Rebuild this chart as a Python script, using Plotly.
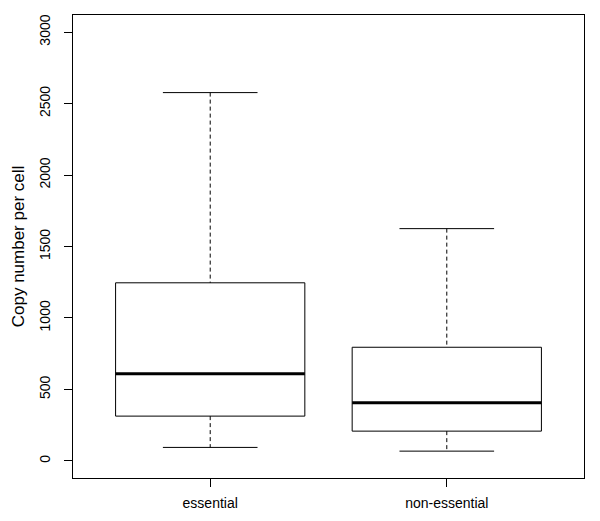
import plotly.graph_objects as go

# values
groups = ["essential", "non-essential"]
lower_whisker = [94, 68]
q1 = [313, 208]
median = [610, 407]
q3 = [1246, 795]
upper_whisker = [2577, 1625]

y_ticks = [0, 500, 1000, 1500, 2000, 2500, 3000]

BOX_HALF = 0.4
CAP_HALF = 0.2

fig = go.Figure()

for i, name in enumerate(groups):
    x = i + 1
    # whiskers (dashed)
    fig.add_trace(go.Scatter(
        x=[x, x, None, x, x],
        y=[upper_whisker[i], q3[i], None, q1[i], lower_whisker[i]],
        mode="lines", line=dict(color="black", width=1, dash="4px,3px"),
        hoverinfo="skip", showlegend=False))
    # staples
    fig.add_trace(go.Scatter(
        x=[x - CAP_HALF, x + CAP_HALF, None, x - CAP_HALF, x + CAP_HALF],
        y=[upper_whisker[i], upper_whisker[i], None, lower_whisker[i], lower_whisker[i]],
        mode="lines", line=dict(color="black", width=1),
        hoverinfo="skip", showlegend=False))
    # box
    fig.add_trace(go.Scatter(
        x=[x - BOX_HALF, x + BOX_HALF, x + BOX_HALF, x - BOX_HALF, x - BOX_HALF],
        y=[q1[i], q1[i], q3[i], q3[i], q1[i]],
        mode="lines", line=dict(color="black", width=1),
        hoverinfo="skip", showlegend=False))
    # median
    fig.add_trace(go.Scatter(
        x=[x - BOX_HALF, x + BOX_HALF],
        y=[median[i], median[i]],
        mode="lines", line=dict(color="black", width=3),
        name=name, showlegend=False))

fig.update_layout(
    width=600, height=521,
    margin=dict(l=73, r=16, t=15, b=43, autoexpand=False),
    plot_bgcolor="white", paper_bgcolor="white",
    font=dict(family="Liberation Sans, Arial, sans-serif", size=14, color="black"),
)
fig.update_xaxes(
    range=[0.42, 2.58], tickvals=[1, 2], ticktext=groups,
    showgrid=False, zeroline=False,
    showline=True, mirror=True, linecolor="black", linewidth=1,
    ticks="outside", ticklen=8, tickcolor="black",
    ticklabelstandoff=4,
)
fig.update_yaxes(
    range=[-120, 3120], tickvals=y_ticks, ticktext=[str(v) for v in y_ticks],
    tickangle=-90,
    showgrid=False, zeroline=False,
    showline=True, mirror=True, linecolor="black", linewidth=1,
    ticks="outside", ticklen=8, tickcolor="black",
    ticklabelstandoff=8,
    title=dict(text="Copy number per cell", standoff=8),
)

# drop the default page margin so the figure sits at the window origin
fig.write_html("out.html", config={"displayModeBar": False},
               post_script="document.body.style.margin='0';")
